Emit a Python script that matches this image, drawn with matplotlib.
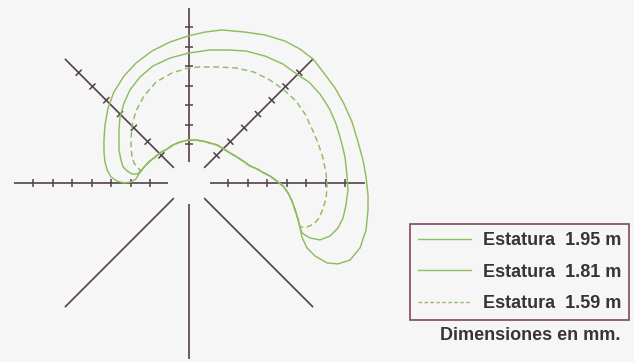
import numpy as np
import matplotlib
matplotlib.use("Agg")
import matplotlib.pyplot as plt
from matplotlib.collections import LineCollection
from matplotlib.lines import Line2D

# ---------------- data (mm, relative to eye point) ----------------
ray_angles_deg = [0, 45, 90, 135, 180, 225, 270, 315]
ticked_angles_deg = [0, 45, 90, 135, 180]
ray_inner_mm = 110
ray_outer_mm = 900
tick_radii_mm = [200, 300, 400, 500, 600, 700, 800]

# shared lower boundary (hump) from left to right
hump_x = [-251, -226, -200, -174, -149, -113, -82, -46, -5, 36, 72, 108, 144, 179,
          210, 246, 277, 313, 349, 385, 415, 451, 482, 508, 528, 544, 559, 569]
hump_y = [56, 87, 113, 133, 154, 174, 195, 210, 220, 220, 215, 205, 195, 174,
          154, 133, 113, 87, 72, 51, 36, 10, -15, -51, -92, -138, -185, -226]

# outer contours, from the right end of the hump round to its left end
h159_x = [605, 641, 667, 687, 703, 708, 703, 687, 662, 631, 595, 549, 487, 415, 333,
          241, 144, 56, -5, -87, -169, -231, -272, -292, -297, -297, -292, -282, -267, -251]
h159_y = [-226, -210, -179, -133, -77, -21, 51, 128, 205, 277, 354, 420, 477, 528, 569,
          590, 595, 595, 590, 564, 518, 446, 369, 297, 231, 179, 133, 103, 82, 67]

h181_x = [579, 620, 672, 723, 764, 790, 805, 815, 810, 800, 779, 754, 718, 672, 615, 559,
          482, 390, 292, 200, 108, 0, -97, -185, -251, -303, -333, -354, -359, -359,
          -349, -338, -318, -292, -267]
h181_y = [-256, -282, -292, -272, -231, -179, -113, -36, 41, 133, 220, 303, 385, 456, 518, 554,
          610, 651, 677, 682, 682, 667, 641, 600, 544, 477, 410, 338, 272, 169,
          118, 82, 62, 46, 46]

h195_x = [579, 605, 646, 708, 764, 826, 877, 908, 918, 918, 908, 892, 867, 836, 795, 749,
          692, 636, 569, 492, 390, 287, 169, 82, -5, -97, -190, -272, -333, -385, -415,
          -431, -436, -436, -431, -420, -400, -369, -333, -297, -272]
h195_y = [-277, -333, -374, -410, -415, -395, -333, -241, -138, -62, 31, 118, 210, 313, 405, 487,
          564, 636, 687, 728, 759, 774, 785, 774, 754, 723, 677, 615, 549, 467, 385,
          297, 220, 159, 108, 67, 31, 10, 0, 5, 21]

labels = ["Estatura  1.95 m", "Estatura  1.81 m", "Estatura  1.59 m"]
note = "Dimensiones en mm."

# ---------------- style ----------------
W, H, DPI = 634, 362, 100
bg = "#f7f6f7"
axis_col = "#53404a"
curve_col = "#8fbd5e"
text_col = "#3a3336"
frame_col = "#7c4a5a"
px = 100 / 19.5          # mm per pixel
cx, cy = 189, 183        # centre in pixels

fig = plt.figure(figsize=(W / DPI, H / DPI), dpi=DPI, facecolor=bg)
ax = fig.add_axes([0, 0, 1, 1])
ax.set_facecolor(bg)
ax.set_xlim(-cx * px, (W - cx) * px)
ax.set_ylim(-(H - cy) * px, cy * px)
ax.axis("off")

# rays
segs = []
for a in ray_angles_deg:
    t = np.deg2rad(a)
    segs.append([(ray_inner_mm * np.cos(t), ray_inner_mm * np.sin(t)),
                 (ray_outer_mm * np.cos(t), ray_outer_mm * np.sin(t))])
ax.add_collection(LineCollection(segs, colors=axis_col, linewidths=1.2, zorder=2))

# ticks
tsegs = []
half = 22
for a in ticked_angles_deg:
    t = np.deg2rad(a)
    ux, uy = np.cos(t), np.sin(t)
    nx, ny = -uy, ux
    for r in tick_radii_mm:
        px0, py0 = r * ux, r * uy
        tsegs.append([(px0 - half * nx, py0 - half * ny), (px0 + half * nx, py0 + half * ny)])
ax.add_collection(LineCollection(tsegs, colors=axis_col, linewidths=1.1, zorder=2))

# contours (hump + outer part, closed)
def closed(ox, oy):
    xs = list(hump_x) + list(ox) + [hump_x[0]]
    ys = list(hump_y) + list(oy) + [hump_y[0]]
    return xs, ys

x, y = closed(h195_x, h195_y)
ax.plot(x, y, color=curve_col, lw=1.05, zorder=3, solid_joinstyle="round")
x, y = closed(h181_x, h181_y)
ax.plot(x, y, color=curve_col, lw=1.05, zorder=3, solid_joinstyle="round")
x, y = closed(h159_x, h159_y)
ax.plot(x, y, color=curve_col, lw=1.05, ls=(0, (4, 2.5)), zorder=3)

handles = [Line2D([], [], color=curve_col, lw=1.0),
           Line2D([], [], color=curve_col, lw=1.0),
           Line2D([], [], color=curve_col, lw=1.0, ls=(0, (2.5, 1.8)))]
leg = fig.legend(handles, labels, loc="upper right",
                 bbox_to_anchor=(629 / W, 1 - 224 / H),
                 prop={"family": "Liberation Sans", "weight": "bold", "size": 13},
                 handlelength=2.9, handletextpad=0.65, labelspacing=0.8,
                 borderpad=0.45, borderaxespad=0, fancybox=False,
                 framealpha=1, facecolor=bg, edgecolor=frame_col)
leg.get_frame().set_linewidth(1.2)
for t in leg.get_texts():
    t.set_color(text_col)

fig.text(620 / W, 1 - 336 / H, note, ha="right", va="center",
         family="Liberation Sans", weight="bold", size=13, color=text_col)

fig.savefig("out.png", dpi=DPI, facecolor=bg)
